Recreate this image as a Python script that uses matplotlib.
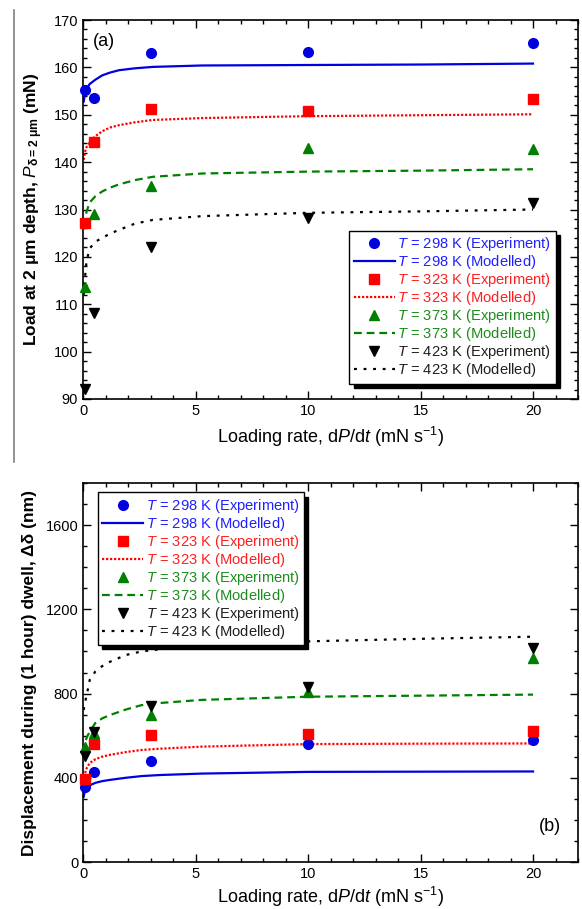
import numpy as np
import matplotlib.pyplot as plt
from matplotlib.lines import Line2D
from matplotlib.ticker import MultipleLocator

# ── Data ────────────────────────────────────────────────────────────────────
rate_exp = [0.1, 0.5, 3, 10, 20]

# (a) load at 2 um depth (mN)
load_298 = [155.2, 153.5, 163.0, 163.3, 165.2]
load_323 = [127.1, 144.3, 151.2, 150.8, 153.3]
load_373 = [113.6, 129.0, 135.0, 142.9, 142.8]
load_423 = [92.2, 108.1, 122.0, 128.2, 131.4]

rate_mod_a = [0.03, 0.09, 0.16, 0.3, 0.55, 0.85, 1.2, 1.6, 2.3, 3.1, 5.3, 10, 15, 20]
mload_298 = [152.8, 154.5, 155.5, 156.5, 157.4, 158.3, 158.9, 159.4, 159.8, 160.1, 160.4, 160.5, 160.6, 160.8]
mload_323 = [140.5, 142.2, 143.2, 144.2, 145.5, 146.5, 147.3, 147.8, 148.4, 148.9, 149.3, 149.7, 149.9, 150.1]
mload_373 = [126.5, 128.0, 129.6, 131.5, 132.8, 133.8, 134.6, 135.3, 136.2, 136.9, 137.6, 138.0, 138.2, 138.5]
mload_423 = [112.0, 115.8, 119.2, 121.8, 123.2, 124.0, 124.9, 125.7, 127.0, 127.8, 128.6, 129.3, 129.6, 130.0]

# (b) displacement during dwell (nm)
disp_298 = [355, 429, 480, 559, 579]
disp_323 = [394, 560, 603, 608, 623]
disp_373 = [547, 614, 698, 806, 967]
disp_423 = [503, 618, 741, 832, 1015]

rate_mod_b = [0.03, 0.09, 0.16, 0.3, 0.55, 0.85, 1.2, 1.9, 2.6, 3.4, 5.3, 10, 15, 20]
mdisp_298 = [310, 342, 352, 364, 376, 384, 390, 400, 408, 413, 420, 428, 429, 430]
mdisp_323 = [385, 421, 445, 470, 488, 500, 509, 522, 532, 538, 548, 560, 562, 563]
mdisp_373 = [520, 565, 590, 620, 660, 682, 698, 724, 745, 755, 770, 785, 790, 795]
mdisp_423 = [722, 760, 790, 865, 905, 930, 951, 983, 1000, 1010, 1026, 1048, 1060, 1070]

TEMPS = ['298', '323', '373', '423']

C_BLUE  = '#0000E0'
C_RED   = '#FF0000'
C_GREEN = '#008000'
C_BLACK = '#000000'
TXT_COLORS = ['#2020FF', '#2020FF', '#FF2020', '#FF2020',
              '#1E8C1E', '#1E8C1E', '#202020', '#202020']

colors  = [C_BLUE, C_RED, C_GREEN, C_BLACK]
markers = ['o', 's', '^', 'v']
styles  = ['-', (0, (1, 0.8)), (0, (3.5, 2.2)), (0, (1.3, 3.0))]

plt.rcParams.update({
    'font.family': 'Liberation Sans',
    'font.size': 10.5,
    'axes.unicode_minus': False,
    'mathtext.fontset': 'custom',
    'mathtext.it': 'Liberation Sans:italic',
    'mathtext.rm': 'Liberation Sans',
    'mathtext.bf': 'Liberation Sans:bold',
})

fig = plt.figure(figsize=(5.82, 9.09), dpi=100)
W, H = 582, 909


def panel_axes(top_px, bottom_px):
    return fig.add_axes([83 / W, (H - bottom_px) / H, 495 / W, (bottom_px - top_px) / H])


def style_axes(ax):
    ax.tick_params(which='both', direction='in', top=True, right=True, labelsize=10.5)
    ax.tick_params(which='major', length=6, width=1)
    ax.tick_params(which='minor', length=3, width=1)
    for sp in ax.spines.values():
        sp.set_linewidth(1.2)
    ax.set_xlim(0, 22)
    ax.xaxis.set_major_locator(MultipleLocator(5))
    ax.xaxis.set_minor_locator(MultipleLocator(1))
    ax.set_xlabel('Loading rate, d$P$/d$t$ (mN s$^{-1}$)', fontsize=13, labelpad=5)


def add_legend(ax, loc, anchor):
    handles = []
    labels = []
    for t, c, m, ls in zip(TEMPS, colors, markers, styles):
        handles.append(Line2D([], [], color=c, marker=m, linestyle='none', markersize=7))
        labels.append(f'$T$ = {t} K (Experiment)')
        handles.append(Line2D([], [], color=c, linestyle=ls, linewidth=1.6))
        labels.append(f'$T$ = {t} K (Modelled)')
    leg = ax.legend(handles, labels, loc=loc, bbox_to_anchor=anchor, fontsize=10.6,
                    labelcolor=TXT_COLORS, frameon=True, fancybox=False,
                    edgecolor='black', handlelength=2.8, handletextpad=0.15,
                    labelspacing=0.0, borderpad=0.3, borderaxespad=0,
                    shadow={'color': 'black', 'alpha': 1.0, 'ox': 3, 'oy': -3})
    leg.get_frame().set_linewidth(1.0)
    return leg


# ── (a) Load at 2 um depth ──────────────────────────────────────────────────
ax1 = panel_axes(20, 399)
mods_a = [mload_298, mload_323, mload_373, mload_423]
exps_a = [load_298, load_323, load_373, load_423]
for mod, exp, c, m, ls in zip(mods_a, exps_a, colors, markers, styles):
    ax1.plot(rate_mod_a, mod, color=c, linestyle=ls, linewidth=1.6, zorder=2)
    ax1.plot(rate_exp, exp, color=c, marker=m, linestyle='none', markersize=7,
             clip_on=False, zorder=3)
style_axes(ax1)
ax1.set_ylim(90, 170)
ax1.yaxis.set_major_locator(MultipleLocator(10))
ax1.yaxis.set_minor_locator(MultipleLocator(2))
ax1.set_ylabel('Load at 2 \u03bcm depth, $P_{\\mathbf{\u03b4=2\\ \u03bcm}}$ (mN)',
               fontsize=12.5, fontweight='bold', labelpad=6)
ax1.text(0.02, 0.965, '(a)', transform=ax1.transAxes, fontsize=13, va='top', ha='left')
add_legend(ax1, 'lower right', (0.955, 0.04))

# ── (b) Displacement during dwell ───────────────────────────────────────────
ax2 = panel_axes(483, 862)
mods_b = [mdisp_298, mdisp_323, mdisp_373, mdisp_423]
exps_b = [disp_298, disp_323, disp_373, disp_423]
for mod, exp, c, m, ls in zip(mods_b, exps_b, colors, markers, styles):
    ax2.plot(rate_mod_b, mod, color=c, linestyle=ls, linewidth=1.6, zorder=2)
    ax2.plot(rate_exp, exp, color=c, marker=m, linestyle='none', markersize=7,
             clip_on=False, zorder=3)
style_axes(ax2)
ax2.xaxis.labelpad = 3
ax2.set_ylim(0, 1800)
ax2.yaxis.set_major_locator(MultipleLocator(400))
ax2.yaxis.set_minor_locator(MultipleLocator(100))
ax2.set_ylabel('Displacement during (1 hour) dwell, \u0394\u03b4 (nm)',
               fontsize=12.5, fontweight='bold', labelpad=6)
ax2.text(0.965, 0.07, '(b)', transform=ax2.transAxes, fontsize=13, va='bottom', ha='right')
add_legend(ax2, 'upper left', (0.03, 0.975))

# scan artefact: thin grey rule at the left of panel (a)
fig.add_artist(Line2D([14 / W, 14 / W], [1 - 10 / H, 1 - 462 / H],
                      color='#808080', linewidth=1.2))

fig.savefig('out.png', dpi=100)
